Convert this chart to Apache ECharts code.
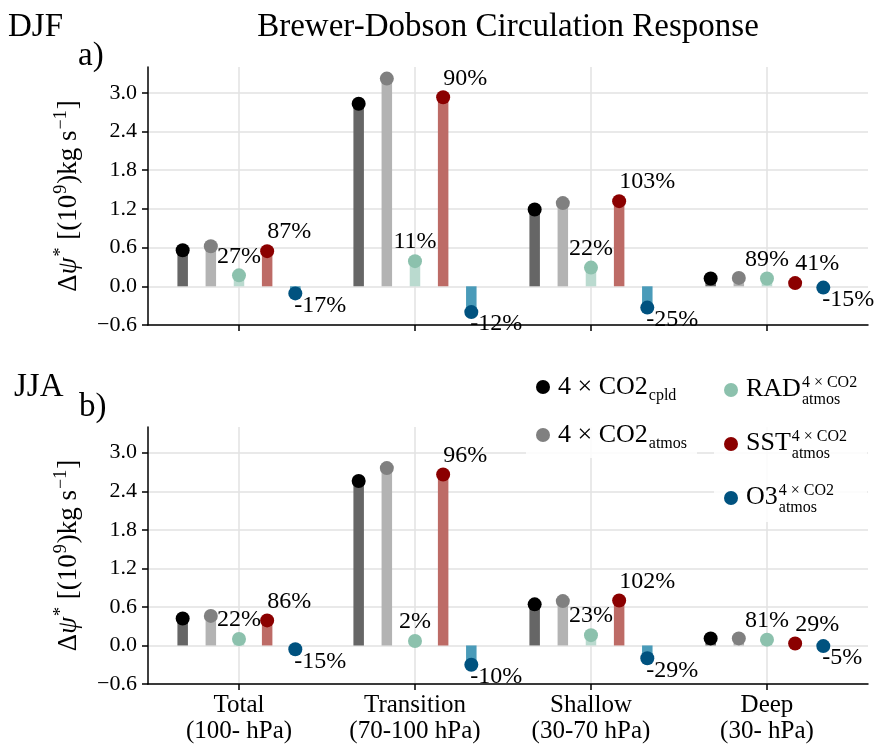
<!DOCTYPE html>
<html><head><meta charset="utf-8">
<script src="https://cdn.jsdelivr.net/npm/echarts@6/dist/echarts.min.js"></script>
<style>html,body{margin:0;padding:0;background:#fff}#c{width:877px;height:744px}</style>
</head><body><div id="c"></div>
<script>
// ---------------- data ----------------
const categories = ['Total\n(100- hPa)', 'Transition\n(70-100 hPa)', 'Shallow\n(30-70 hPa)', 'Deep\n(30- hPa)'];
const seriesNames = ['cpld', 'atmos', 'RAD', 'SST', 'O3'];
const yTicks = [-0.6, 0.0, 0.6, 1.2, 1.8, 2.4, 3.0];
const xTicks = [0, 1, 2, 3];

const djfCpld  = [0.56, 2.83, 1.19, 0.12];
const djfAtmos = [0.62, 3.22, 1.29, 0.13];
const djfRad   = [0.17, 0.39, 0.29, 0.12];
const djfSst   = [0.545, 2.93, 1.32, 0.05];
const djfO3    = [-0.11, -0.40, -0.33, -0.02];
const djfRadPct = [27, 11, 22, 89];
const djfSstPct = [87, 90, 103, 41];
const djfO3Pct  = [-17, -12, -25, -15];

const jjaCpld  = [0.42, 2.56, 0.64, 0.11];
const jjaAtmos = [0.46, 2.76, 0.69, 0.11];
const jjaRad   = [0.10, 0.07, 0.16, 0.09];
const jjaSst   = [0.39, 2.66, 0.70, 0.03];
const jjaO3    = [-0.06, -0.30, -0.20, -0.01];
const jjaRadPct = [22, 2, 23, 81];
const jjaSstPct = [86, 96, 102, 29];
const jjaO3Pct  = [-15, -10, -29, -5];

// ---------------- style ----------------
const FONT = '"Liberation Serif", "Times New Roman", serif';
const offsets = [-0.32, -0.16, 0, 0.16, 0.32];
const dotColors = ['#000000', '#808080', '#8cc1ad', '#8b0000', '#00527f'];
const barColors = ['#666666', '#b3b3b3', '#badacf', '#bd6b66', '#4a9bb9'];

const ctx = document.createElement('canvas').getContext('2d');
ctx.font = '26px ' + FONT;
const wRAD = ctx.measureText('RAD').width;
const wSST = ctx.measureText('SST').width;
const wO3 = ctx.measureText('O3').width;

const chart = echarts.init(document.getElementById('c'), null, {renderer: 'canvas'});

function yAxis(g) {
  return {
    type: 'value', gridIndex: g, min: -0.6, max: 3.4,
    name: '{t|Δ}{i|ψ}{s|*}{t| [(10}{s|9}{t|)kg s}{s|−1}{t|]}',
    nameLocation: 'middle', nameGap: 64, nameRotate: 90,
    nameTextStyle: {
      fontFamily: FONT, fontSize: 27, color: '#000',
      rich: {
        t: {fontFamily: FONT, fontSize: 27, color: '#000', lineHeight: 30},
        i: {fontFamily: FONT, fontSize: 27, fontStyle: 'italic', color: '#000', lineHeight: 30},
        s: {fontFamily: FONT, fontSize: 18, color: '#000', lineHeight: 30, padding: [0, 1, 16, 1]}
      }
    },
    axisLine: {show: true, onZero: false, lineStyle: {color: '#000', width: 1.5}},
    axisTick: {show: true, length: 6, lineStyle: {color: '#000', width: 1.5}, customValues: yTicks},
    axisLabel: {
      customValues: yTicks, margin: 11, fontFamily: FONT, fontSize: 22, color: '#000',
      formatter: v => (v < -1e-9 ? '−' : '') + Math.abs(v).toFixed(1)
    },
    splitLine: {show: true, lineStyle: {color: '#e2e2e2', width: 1.5}}
  };
}
function xAxis(g, showLabels) {
  return {
    type: 'value', gridIndex: g, min: -0.517, max: 3.574,
    axisLine: {show: true, onZero: false, lineStyle: {color: '#000', width: 1.5}},
    axisTick: {show: true, length: 6, lineStyle: {color: '#000', width: 1.5}, customValues: xTicks},
    axisLabel: {
      show: showLabels, customValues: xTicks, margin: 8, fontFamily: FONT, fontSize: 25,
      lineHeight: 26, color: '#000', formatter: v => categories[Math.round(v)]
    },
    splitLine: {show: true, lineStyle: {color: '#e2e2e2', width: 1.5}}
  };
}

function panel(g, vals, pcts) {
  const out = [];
  vals.forEach((arr, k) => {
    out.push({
      type: 'bar', xAxisIndex: g, yAxisIndex: g, barWidth: 10.5, barGap: '-100%',
      silent: true, z: 2, itemStyle: {color: barColors[k]},
      data: arr.map((v, i) => [xTicks[i] + offsets[k], v])
    });
  });
  vals.forEach((arr, k) => {
    const s = {
      type: 'scatter', name: seriesNames[k], xAxisIndex: g, yAxisIndex: g,
      symbol: 'circle', symbolSize: 14, z: 3, silent: true,
      itemStyle: {color: dotColors[k], opacity: 1},
      data: arr.map((v, i) => [xTicks[i] + offsets[k], v])
    };
    const lab = {show: true, fontFamily: FONT, fontSize: 24, color: '#000'};
    if (k === 2) {
      const p = pcts[0];
      s.label = Object.assign(lab, {position: 'top', distance: 0, formatter: q => p[q.dataIndex] + '%'});
    } else if (k === 3) {
      const p = pcts[1];
      s.label = Object.assign(lab, {position: [7, 0], align: 'left', verticalAlign: 'bottom', formatter: q => p[q.dataIndex] + '%'});
    } else if (k === 4) {
      const p = pcts[2];
      s.label = Object.assign(lab, {position: [6, 7], align: 'left', verticalAlign: 'top', formatter: q => p[q.dataIndex] + '%'});
    }
    out.push(s);
  });
  return out;
}

const legendBase = {
  orient: 'vertical', itemWidth: 20, itemHeight: 14, icon: 'circle',
  backgroundColor: 'rgba(255,255,255,0.85)', padding: [6, 10, 6, 10], borderWidth: 0,
  selectedMode: false
};
const legendRich = {
  m: {fontFamily: FONT, fontSize: 26, color: '#000', lineHeight: 26, verticalAlign: 'middle'},
  sb: {fontFamily: FONT, fontSize: 16, color: '#000', lineHeight: 26, padding: [18, 0, 0, 1], verticalAlign: 'middle'},
  m2: {fontFamily: FONT, fontSize: 26, color: '#000', lineHeight: 20, verticalAlign: 'middle'},
  sp: {fontFamily: FONT, fontSize: 16, color: '#000', lineHeight: 20, padding: [0, 0, 12, 1], verticalAlign: 'middle'},
  gR: {fontSize: 16, lineHeight: 2, width: wRAD + 1},
  gS: {fontSize: 16, lineHeight: 2, width: wSST + 1},
  gO: {fontSize: 16, lineHeight: 2, width: wO3 + 1},
  sb2: {fontFamily: FONT, fontSize: 16, color: '#000', lineHeight: 2, verticalAlign: 'middle'}
};
const legendText = {
  cpld: '{m|4 × CO2}{sb|cpld}',
  atmos: '{m|4 × CO2}{sb|atmos}',
  RAD: '{m2|RAD}{sp|4 × CO2}\n{gR| }{sb2|atmos}',
  SST: '{m2|SST}{sp|4 × CO2}\n{gS| }{sb2|atmos}',
  O3: '{m2|O3}{sp|4 × CO2}\n{gO| }{sb2|atmos}'
};

const titleStyle = {fontFamily: FONT, fontSize: 33, fontWeight: 'normal', color: '#000'};

const option = {
  backgroundColor: '#fff',
  animation: false,
  title: [
    {text: 'Brewer-Dobson Circulation Response', left: 508, top: 11, textAlign: 'center', padding: 0, textStyle: titleStyle},
    {text: 'DJF', left: 8, top: 11, padding: 0, textStyle: titleStyle},
    {text: 'a)', left: 78, top: 40, padding: 0, textStyle: titleStyle},
    {text: 'JJA', left: 14, top: 371, padding: 0, textStyle: titleStyle},
    {text: 'b)', left: 79, top: 391, padding: 0, textStyle: titleStyle}
  ],
  legend: [
    Object.assign({}, legendBase, {
      data: ['cpld', 'atmos'], left: 526, top: 364, itemGap: 14,
      formatter: n => legendText[n], textStyle: {fontFamily: FONT, fontSize: 26, color: '#000', rich: legendRich}
    }),
    Object.assign({}, legendBase, {
      data: ['RAD', 'SST', 'O3'], left: 714, top: 369, itemGap: 21,
      formatter: n => legendText[n], textStyle: {fontFamily: FONT, fontSize: 26, color: '#000', rich: legendRich}
    })
  ],
  grid: [
    {left: 148, right: 9, top: 67, height: 258, containLabel: false},
    {left: 148, right: 9, top: 427, height: 258, containLabel: false}
  ],
  xAxis: [xAxis(0, false), xAxis(1, true)],
  yAxis: [yAxis(0), yAxis(1)],
  series: [].concat(
    panel(0, [djfCpld, djfAtmos, djfRad, djfSst, djfO3], [djfRadPct, djfSstPct, djfO3Pct]),
    panel(1, [jjaCpld, jjaAtmos, jjaRad, jjaSst, jjaO3], [jjaRadPct, jjaSstPct, jjaO3Pct])
  )
};
chart.setOption(option);
</script>
</body></html>
